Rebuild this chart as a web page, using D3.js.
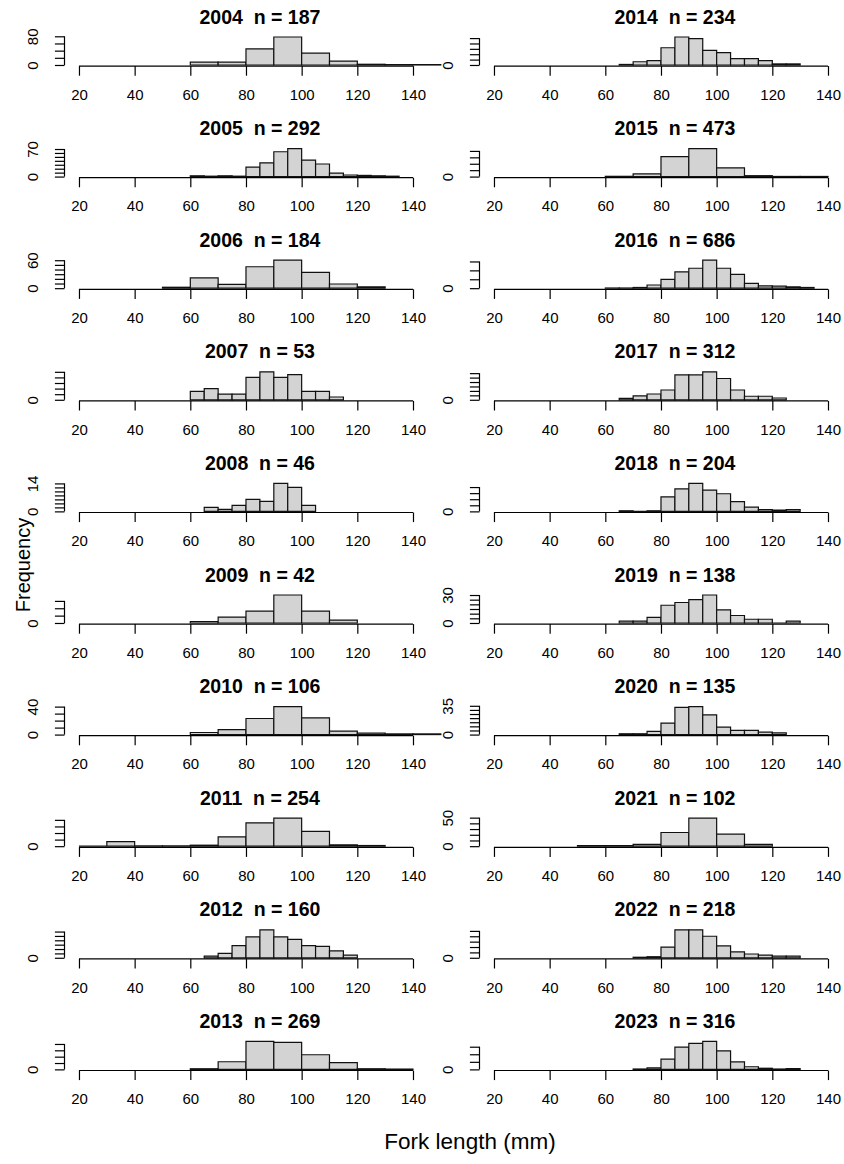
<!DOCTYPE html>
<html>
<head>
<meta charset="utf-8">
<script src="https://cdn.jsdelivr.net/npm/d3@7.9.0/dist/d3.min.js"></script>
<style>
  body { margin: 0; background: #fff; }
  svg text { font-family: "Liberation Sans", Arial, sans-serif; fill: #000; }
</style>
</head>
<body>
<svg id="chart" width="844" height="1164"></svg>
<script>
// Data: one histogram per year (left column 2004-2013, right column 2014-2023)
const years = [2004, 2005, 2006, 2007, 2008, 2009, 2010, 2011, 2012, 2013,
               2014, 2015, 2016, 2017, 2018, 2019, 2020, 2021, 2022, 2023];
const sampleSizes = [187, 292, 184, 53, 46, 42, 106, 254, 160, 269,
                     234, 473, 686, 312, 204, 138, 135, 102, 218, 316];
const binWidths = [10, 5, 10, 5, 5, 10, 10, 10, 5, 10,
                   5, 10, 5, 5, 5, 5, 5, 10, 5, 5];
const binStarts = [60, 60, 50, 60, 65, 60, 60, 20, 65, 60,
                   65, 60, 60, 65, 65, 65, 65, 50, 70, 70];
const counts = [
  [8, 8, 45, 78, 33, 11, 2, 1, 1],
  [2, 1, 2, 1, 24, 35, 63, 71, 42, 32, 9, 4, 3, 2, 1],
  [2, 22, 8, 46, 60, 34, 9, 3],
  [3, 4, 2, 2, 8, 10, 8, 9, 3, 3, 1],
  [2, 1, 3, 6, 5, 14, 12, 3],
  [1, 4, 8, 19, 8, 2],
  [3, 7, 23, 40, 24, 5, 2, 1, 1],
  [0, 14, 1, 1, 3, 28, 71, 85, 45, 4, 2],
  [2, 5, 14, 24, 32, 24, 21, 14, 13, 8, 3],
  [2, 24, 88, 85, 46, 21, 2, 1],
  [1, 6, 8, 32, 52, 49, 27, 23, 12, 12, 8, 2, 2],
  [2, 21, 155, 218, 68, 7, 1, 1],
  [1, 1, 4, 18, 49, 92, 112, 157, 112, 78, 27, 13, 11, 7, 4],
  [3, 9, 13, 22, 56, 56, 63, 48, 22, 8, 8, 4],
  [1, 0, 1, 24, 37, 46, 35, 29, 16, 7, 3, 2, 3],
  [2, 2, 6, 19, 22, 25, 30, 14, 8, 4, 4, 0, 2],
  [1, 1, 4, 14, 33, 34, 24, 9, 5, 5, 3, 2],
  [1, 1, 3, 24, 49, 21, 3],
  [1, 2, 20, 52, 52, 40, 22, 11, 7, 5, 3, 3],
  [1, 4, 27, 59, 69, 74, 49, 20, 7, 3, 1, 2]
];
// y tick labels that are printed (others are only tick marks)
const yLabelsShown = [
  [0, 80], [0, 70], [0, 60], [0], [0, 14], [0], [0, 40], [0], [0], [0],
  [0], [0], [0], [0], [0], [0, 30], [0, 35], [0, 50], [0], [0]
];
const xTicks = [20, 40, 60, 80, 100, 120, 140];
const xLimits = [20, 150];

// Layout
const rowPitch = 111.6;
const colOffset = 415;
const plotLeft = 64.5, plotRight = 455.3;
const plotTop = 35.9, plotH = 30.2;
const tickLen = 9.6;

const svg = d3.select("#chart");

// R style pretty() used by base graphics axes
function rPretty(lo, up, ndiv = 5) {
  const h = 0.8, h5 = 1.7;
  const cell = (up - lo) / ndiv;
  const U = Math.pow(10, Math.floor(Math.log10(cell)));
  let unit = U;
  if (2 * U - cell < h * (cell - unit)) {
    unit = 2 * U;
    if (5 * U - cell < h5 * (cell - unit)) {
      unit = 5 * U;
      if (10 * U - cell < h * (cell - unit)) unit = 10 * U;
    }
  }
  return d3.range(Math.ceil(lo / unit - 1e-7), Math.floor(up / unit + 1e-7) + 1).map(k => k * unit);
}

years.forEach((year, idx) => {
  const col = idx < 10 ? 0 : 1;
  const row = idx % 10;
  const dx = col * colOffset;
  const top = plotTop + row * rowPitch;
  const bottom = top + plotH;

  // usr range with 4% padding like R
  const xPad = (xLimits[1] - xLimits[0]) * 0.04;
  const x = d3.scaleLinear()
    .domain([xLimits[0] - xPad, xLimits[1] + xPad])
    .range([plotLeft + dx, plotRight + dx]);

  const c = counts[idx];
  const maxCount = d3.max(c);
  const y = d3.scaleLinear()
    .domain([-0.04 * maxCount, 1.04 * maxCount])
    .range([bottom, top]);

  const g = svg.append("g");

  // bars
  const bins = c.map((v, i) => ({
    x0: binStarts[idx] + i * binWidths[idx],
    x1: binStarts[idx] + (i + 1) * binWidths[idx],
    v: v
  }));
  g.selectAll("path.bar")
    .data(bins)
    .join("path")
    .attr("class", "bar")
    .attr("d", d => `M${x(d.x0)},${y(0)}V${y(d.v)}H${x(d.x1)}V${y(0)}Z`)
    .attr("fill", "#d3d3d3")
    .attr("stroke", "#111")
    .attr("stroke-width", 1.2);

  // x axis
  const xAxis = g.append("g")
    .attr("transform", `translate(0,${bottom})`)
    .call(d3.axisBottom(x).tickValues(xTicks).tickSize(tickLen).tickPadding(13.5));
  xAxis.select(".domain").remove();
  xAxis.selectAll("line").attr("stroke", "#000").attr("stroke-width", 1.2);
  xAxis.selectAll("text").attr("font-size", "15px").attr("fill", "#000");
  xAxis.append("line")
    .attr("x1", x(xTicks[0])).attr("x2", x(xTicks[xTicks.length - 1]))
    .attr("stroke", "#000").attr("stroke-width", 1.2);

  // y axis
  const yTicks = rPretty(y.domain()[0], y.domain()[1]);
  const shown = yLabelsShown[idx];
  const yAxis = g.append("g")
    .attr("transform", `translate(${plotLeft + dx},0)`)
    .call(d3.axisLeft(y).tickValues(yTicks).tickSize(tickLen)
      .tickFormat(d => shown.includes(d) ? d : ""));
  yAxis.select(".domain").remove();
  yAxis.selectAll("line").attr("stroke", "#000").attr("stroke-width", 1.2);
  yAxis.selectAll("text")
    .attr("x", null).attr("dy", null)
    .attr("text-anchor", "middle")
    .attr("font-size", "15px")
    .attr("fill", "#000")
    .attr("transform", "translate(-26.6,0) rotate(-90)");
  yAxis.append("line")
    .attr("y1", y(yTicks[0])).attr("y2", y(yTicks[yTicks.length - 1]))
    .attr("stroke", "#000").attr("stroke-width", 1.2);

  // title
  g.append("text")
    .attr("x", (plotLeft + plotRight) / 2 + dx)
    .attr("y", row * rowPitch + 23.5)
    .attr("text-anchor", "middle")
    .attr("font-size", "19.5px")
    .attr("font-weight", "bold")
    .style("white-space", "pre")
    .text(`${year}  n = ${sampleSizes[idx]}`);
});

// outer axis titles
svg.append("text")
  .attr("transform", "translate(30,565) rotate(-90)")
  .attr("text-anchor", "middle")
  .attr("font-size", "20px")
  .text("Frequency");

svg.append("text")
  .attr("x", 470)
  .attr("y", 1148.5)
  .attr("text-anchor", "middle")
  .attr("font-size", "22.5px")
  .text("Fork length (mm)");
</script>
</body>
</html>
